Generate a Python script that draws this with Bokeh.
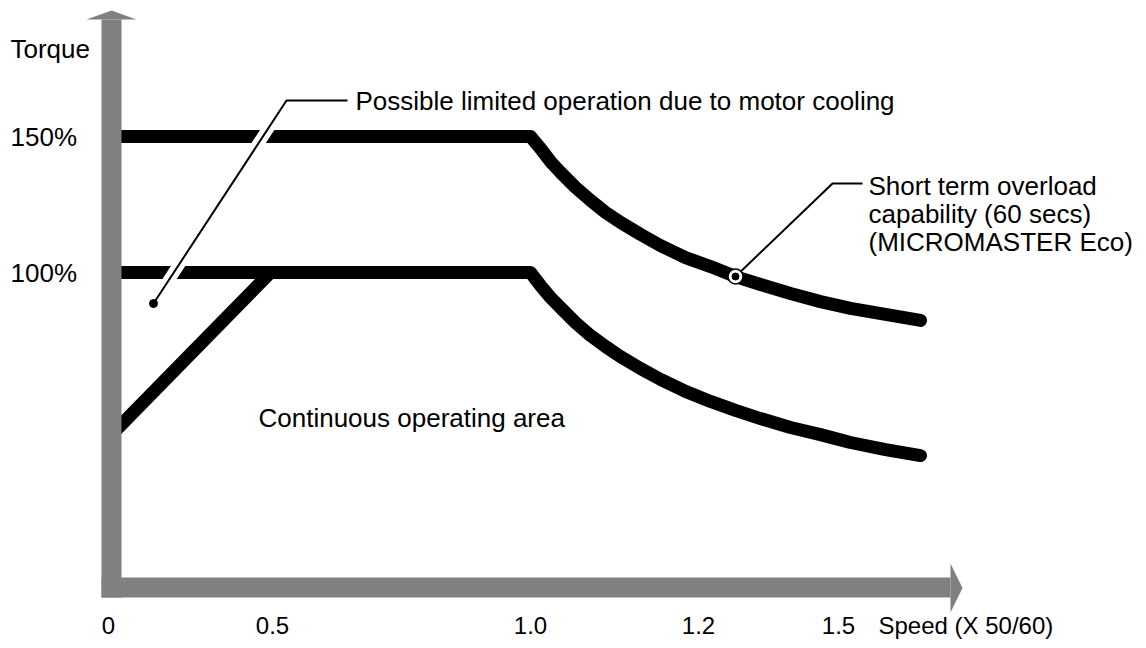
from bokeh.plotting import figure
from bokeh.models import Range1d
from bokeh.embed import file_html
from bokeh.resources import INLINE
from bokeh.core.properties import value

# ---------------- data (schematic speed position, torque in %) ----------------
speed_tick_pos = [108, 272, 530, 698, 838]
speed_tick_labels = ["0", "0.5", "1.0", "1.2", "1.5"]
speed_axis_title = "Speed (X 50/60)"
torque_tick_vals = [150, 100]
torque_tick_labels = ["150%", "100%"]
torque_axis_title = "Torque"

overload_x = [111, 530, 540, 550, 560, 575, 590, 605, 620, 640, 660, 685, 710,
              735, 760, 790, 820, 850, 885, 920]
overload_y = [150, 150, 145.6, 140.8, 136.8, 131.3, 126.5, 122.1, 118.4, 114.0,
              109.9, 105.5, 102.2, 98.5, 95.6, 92.3, 89.3, 86.8, 84.6, 82.4]

continuous_x = [111, 530, 540, 550, 560, 575, 590, 605, 620, 640, 660, 685, 710,
                735, 760, 790, 820, 850, 885, 920]
continuous_y = [100, 100, 95.2, 90.8, 87.1, 81.6, 76.8, 72.8, 69.1, 64.7, 60.7,
                56.3, 52.6, 49.3, 46.3, 43.0, 40.4, 37.5, 34.9, 32.7]

ramp_x = [111, 270]
ramp_y = [40.4, 100]

# ---------------- figure ----------------
W, H = 1146, 648
FONT = value("Liberation Sans")
FS = value("26px")
FS_X = value("24px")


def py(v):
    """picture pixel row -> torque % (layout helper for decorations)"""
    return (544 - v) / 2.72


p = figure(width=W, height=H, output_backend="svg", toolbar_location=None,
           x_range=Range1d(0, W), y_range=Range1d(py(H), py(0)),
           min_border=0, outline_line_color=None)
p.axis.visible = False
p.grid.visible = False
p.background_fill_color = "white"
p.border_fill_color = "white"

BLACK = "#000000"
GRAY = "#808080"
LW = 13

# curves
p.line(overload_x, overload_y, line_width=LW, line_color=BLACK,
       line_cap="round", line_join="round")
p.line(continuous_x, continuous_y, line_width=LW, line_color=BLACK,
       line_cap="round", line_join="round")
p.line(ramp_x, ramp_y, line_width=LW, line_color=BLACK, line_cap="butt")

# leader 1 : limited operation
l1x = [153, 286, 347]
l1y = [py(303), py(100), py(100)]
p.line(l1x[:2], l1y[:2], line_width=12, line_color="white", line_cap="butt")
p.line(l1x, l1y, line_width=2, line_color=BLACK)
p.scatter([153], [py(303)], size=8, fill_color=BLACK, line_color=BLACK)
p.text([355], [py(100)], text=["Possible limited operation due to motor cooling"],
       text_font=FONT, text_font_size=FS, text_baseline="middle", text_align="left",
       text_color=BLACK)

# leader 2 : overload capability
l2x = [735, 832, 862]
l2y = [py(276), py(183), py(183)]
p.line(l2x, l2y, line_width=2, line_color=BLACK)
p.scatter([735], [py(276)], size=15, fill_color="white", line_color=BLACK, line_width=1.5)
p.scatter([735], [py(276)], size=7, fill_color=BLACK, line_color=BLACK)
p.text([868, 868, 868], [py(185), py(213), py(241)],
       text=["Short term overload", "capability (60 secs)", "(MICROMASTER Eco)"],
       text_font=FONT, text_font_size=FS, text_baseline="middle", text_align="left",
       text_color=BLACK)

p.text([258], [py(417)], text=["Continuous operating area"],
       text_font=FONT, text_font_size=FS, text_baseline="middle", text_align="left",
       text_color=BLACK)

# axes (gray bars with arrows)
p.quad(left=[101], right=[121], top=[py(19)], bottom=[py(597)],
       fill_color=GRAY, line_color=None)
p.patch([86, 136, 111], [py(19), py(19), py(10)], fill_color=GRAY, line_color=None)
p.quad(left=[101], right=[950], top=[py(577)], bottom=[py(597)],
       fill_color=GRAY, line_color=None)
p.patch([950, 950, 962], [py(563), py(612), py(587.5)], fill_color=GRAY, line_color=None)

# tick labels
p.text(speed_tick_pos, [py(625)] * len(speed_tick_pos), text=speed_tick_labels,
       text_font=FONT, text_font_size=FS_X, text_baseline="middle", text_align="center",
       text_color=BLACK)
p.text([878], [py(625)], text=[speed_axis_title],
       text_font=FONT, text_font_size=FS_X, text_baseline="middle", text_align="left",
       text_color=BLACK)
p.text([10] * len(torque_tick_vals), torque_tick_vals, text=torque_tick_labels,
       text_font=FONT, text_font_size=FS, text_baseline="middle", text_align="left",
       text_color=BLACK)
p.text([10], [py(48)], text=[torque_axis_title],
       text_font=FONT, text_font_size=FS, text_baseline="middle", text_align="left",
       text_color=BLACK)

open("out.html", "w").write(file_html(p, INLINE))
